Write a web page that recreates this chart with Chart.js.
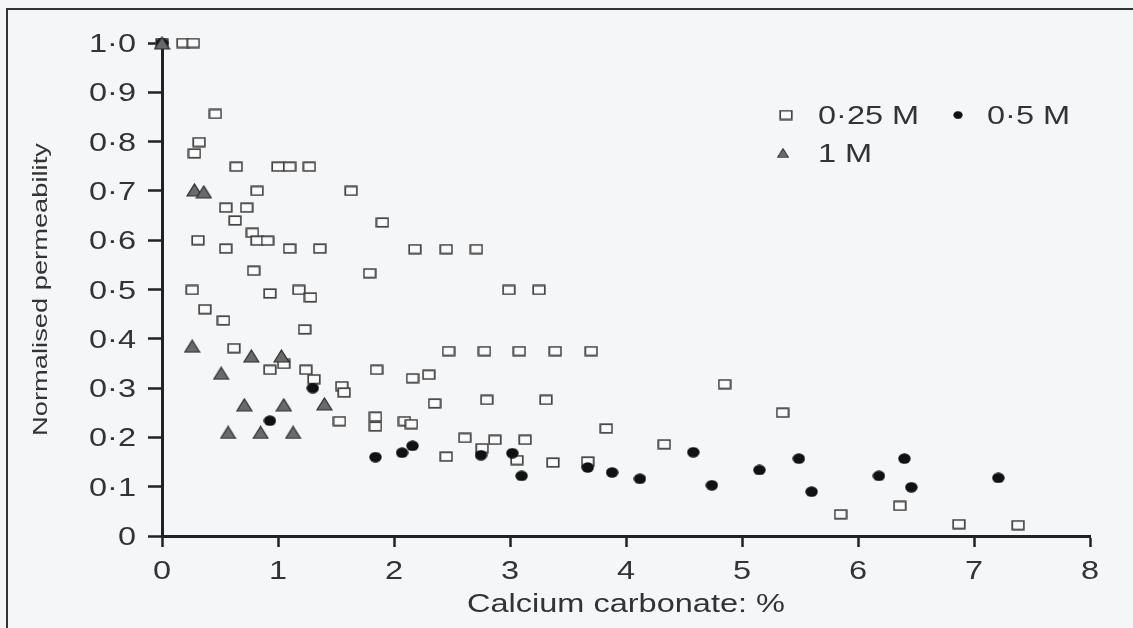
<!DOCTYPE html>
<html>
<head>
<meta charset="utf-8">
<title>Normalised permeability vs calcium carbonate</title>
<script src="https://cdn.jsdelivr.net/npm/chart.js@4.4.1/dist/chart.umd.min.js"></script>
<style>
  html, body { margin: 0; padding: 0; background: #f5f6f8; overflow: hidden; }
  canvas { display: block; }
</style>
</head>
<body>
<canvas id="permChart" width="1133" height="628"></canvas>
<script>
// values
const xTickLabels = ['0', '1', '2', '3', '4', '5', '6', '7', '8'];
const yTickLabels = ['0', '0·1', '0·2', '0·3', '0·4', '0·5', '0·6', '0·7', '0·8', '0·9', '1·0'];
const xTitle = 'Calcium carbonate: %';
const yTitle = 'Normalised permeability';
const seriesLabels = ['0·25 M', '0·5 M', '1 M'];

// 0.25 M (open squares)
const m025X = [0, 0.18, 0.27, 0.46, 0.32, 0.28, 0.64, 1.00, 1.10, 1.27, 0.82, 1.63,
  0.55, 0.73, 0.63, 1.90, 0.78, 0.82, 0.91, 0.31, 0.55, 1.10, 1.36, 2.18, 2.45, 2.71,
  0.79, 1.79, 0.26, 0.93, 1.18, 1.28, 2.99, 3.25, 0.37, 0.53, 1.23, 0.62,
  2.47, 2.78, 3.08, 3.39, 3.70, 1.05, 0.93, 1.24, 1.85, 1.31, 2.16, 2.30, 1.55, 1.57,
  4.85, 2.35, 2.80, 3.31, 5.35, 1.84, 1.84, 1.53, 2.09, 2.15, 3.83, 2.61, 2.87, 3.13,
  4.33, 2.76, 2.45, 3.06, 3.37, 3.67, 5.85, 6.36, 6.87, 7.38];
const m025Y = [1.0, 1.0, 1.0, 0.856, 0.799, 0.776, 0.749, 0.749, 0.749, 0.749, 0.700, 0.700,
  0.666, 0.666, 0.640, 0.636, 0.615, 0.599, 0.599, 0.600, 0.583, 0.583, 0.583, 0.582, 0.582, 0.582,
  0.538, 0.533, 0.499, 0.492, 0.499, 0.484, 0.499, 0.499, 0.460, 0.437, 0.419, 0.381,
  0.375, 0.375, 0.375, 0.375, 0.375, 0.349, 0.337, 0.337, 0.337, 0.318, 0.320, 0.327, 0.304, 0.291,
  0.308, 0.269, 0.276, 0.276, 0.250, 0.242, 0.222, 0.233, 0.233, 0.227, 0.218, 0.199, 0.195, 0.195,
  0.186, 0.178, 0.161, 0.154, 0.149, 0.151, 0.044, 0.061, 0.024, 0.022];

// 0.5 M (filled circles)
const m05X = [0, 1.30, 0.93, 1.84, 2.07, 2.16, 2.75, 3.02, 3.10, 3.67, 3.88, 4.12,
  4.58, 4.74, 5.15, 5.49, 5.60, 6.18, 6.40, 6.46, 7.21];
const m05Y = [1.0, 0.300, 0.234, 0.160, 0.169, 0.183, 0.164, 0.168, 0.122, 0.139, 0.129, 0.116,
  0.170, 0.103, 0.134, 0.157, 0.090, 0.122, 0.157, 0.099, 0.118];

// 1 M (grey triangles)
const m1X = [0, 0.28, 0.36, 0.26, 0.77, 1.03, 0.51, 0.71, 1.05, 1.40, 0.57, 0.85, 1.13];
const m1Y = [1.0, 0.702, 0.698, 0.385, 0.365, 0.365, 0.330, 0.266, 0.266, 0.268, 0.210, 0.210, 0.210];

const fontFamily = '"Liberation Sans", Arial, Helvetica, sans-serif';
const ink = '#333';
const axisInk = '#222';
const TEXT_STRETCH = 1.3; // the figure's lettering is wider than Arial

const toPoints = (xs, ys) => xs.map((x, i) => ({ x, y: ys[i] }));

// marker images
function squareMarker() {
  const c = document.createElement('canvas');
  c.width = 14; c.height = 11;
  const g = c.getContext('2d');
  g.fillStyle = '#fbfbfb';
  g.fillRect(1, 1, 12, 9);
  g.strokeStyle = '#444';
  g.lineWidth = 1.7;
  g.strokeRect(1.2, 1.2, 11.6, 8.6);
  return c;
}
function circleMarker() {
  const c = document.createElement('canvas');
  c.width = 13; c.height = 11;
  const g = c.getContext('2d');
  g.fillStyle = '#111';
  g.beginPath();
  g.ellipse(6.5, 5.5, 6.2, 5.2, 0, 0, Math.PI * 2);
  g.fill();
  return c;
}
function triangleMarker() {
  const c = document.createElement('canvas');
  c.width = 17; c.height = 14;
  const g = c.getContext('2d');
  g.fillStyle = '#6a6a6a';
  g.strokeStyle = '#2a2a2a';
  g.lineWidth = 1.2;
  g.beginPath();
  g.moveTo(1, 13);
  g.lineTo(8.5, 1);
  g.lineTo(16, 13);
  g.closePath();
  g.fill();
  g.stroke();
  return c;
}

function wideText(ctx, text, x, y, align, angle) {
  ctx.save();
  ctx.translate(x, y);
  if (angle) ctx.rotate(angle);
  ctx.scale(TEXT_STRETCH, 1);
  ctx.textAlign = align;
  ctx.fillText(text, 0, 0);
  ctx.restore();
}

const paperPlugin = {
  id: 'paper',
  beforeDraw(chart) {
    const { ctx, width, height } = chart;
    ctx.save();
    ctx.fillStyle = '#f5f6f8';
    ctx.fillRect(0, 0, width, height);
    ctx.strokeStyle = '#333';
    ctx.lineWidth = 2;
    ctx.beginPath();
    ctx.moveTo(7, height);
    ctx.lineTo(7, 9);
    ctx.lineTo(width, 9);
    ctx.stroke();
    ctx.restore();
  },
};

const axisTextPlugin = {
  id: 'axisText',
  afterDraw(chart) {
    const { ctx, scales: { x, y } } = chart;
    ctx.save();
    ctx.fillStyle = ink;
    ctx.textBaseline = 'alphabetic';
    ctx.font = `25px ${fontFamily}`;
    y.ticks.forEach((t, i) => wideText(ctx, yTickLabels[i], y.right - 26, y.getPixelForValue(t.value) + 9, 'right'));
    x.ticks.forEach((t, i) => wideText(ctx, xTickLabels[i], x.getPixelForValue(t.value), x.top + 43, 'center'));
    wideText(ctx, xTitle, (x.left + x.right) / 2, x.top + 76, 'center');
    ctx.font = `21px ${fontFamily}`;
    wideText(ctx, yTitle, 47, (y.top + y.bottom) / 2, 'center', -Math.PI / 2);
    ctx.restore();
  },
};

const legendPlugin = {
  id: 'legendBox',
  afterDraw(chart) {
    const { ctx } = chart;
    const slots = [
      { mx: 786, my: 115, tx: 818, k: 1 },
      { mx: 958, my: 115, tx: 987, k: 0.75 },
      { mx: 783, my: 153, tx: 818, k: 0.75 },
    ];
    ctx.save();
    ctx.fillStyle = ink;
    ctx.font = `25px ${fontFamily}`;
    ctx.textBaseline = 'alphabetic';
    chart.data.datasets.forEach((ds, i) => {
      const s = slots[i];
      const img = ds.pointStyle;
      const w = img.width * s.k, h = img.height * s.k;
      ctx.drawImage(img, s.mx - w / 2, s.my - h / 2, w, h);
      wideText(ctx, ds.label, s.tx, s.my + 9, 'left');
    });
    ctx.restore();
  },
};

const axisLine = { color: axisInk, width: 3 };

new Chart(document.getElementById('permChart'), {
  type: 'scatter',
  data: {
    datasets: [
      { label: seriesLabels[0], data: toPoints(m025X, m025Y), pointStyle: squareMarker(), pointRadius: 6, order: 3, clip: false },
      { label: seriesLabels[1], data: toPoints(m05X, m05Y), pointStyle: circleMarker(), pointRadius: 6, order: 2, clip: false },
      { label: seriesLabels[2], data: toPoints(m1X, m1Y), pointStyle: triangleMarker(), pointRadius: 7, order: 1, clip: false },
    ],
  },
  options: {
    responsive: false,
    animation: false,
    events: [],
    layout: { padding: { left: 0, right: 43, top: 43, bottom: 0 } },
    plugins: { legend: { display: false }, tooltip: { enabled: false } },
    scales: {
      x: {
        type: 'linear',
        min: 0,
        max: 8,
        ticks: { stepSize: 1, display: false },
        grid: { drawOnChartArea: false, drawTicks: true, tickLength: 11, tickColor: axisInk, tickWidth: 2.5 },
        border: axisLine,
        afterFit: (scale) => { scale.height = 92; },
      },
      y: {
        type: 'linear',
        min: 0,
        max: 1,
        ticks: { stepSize: 0.1, display: false },
        grid: { drawOnChartArea: false, drawTicks: true, tickLength: 14, tickColor: axisInk, tickWidth: 2.5 },
        border: axisLine,
        afterFit: (scale) => { scale.width = 162; },
      },
    },
  },
  plugins: [paperPlugin, axisTextPlugin, legendPlugin],
});
</script>
</body>
</html>
